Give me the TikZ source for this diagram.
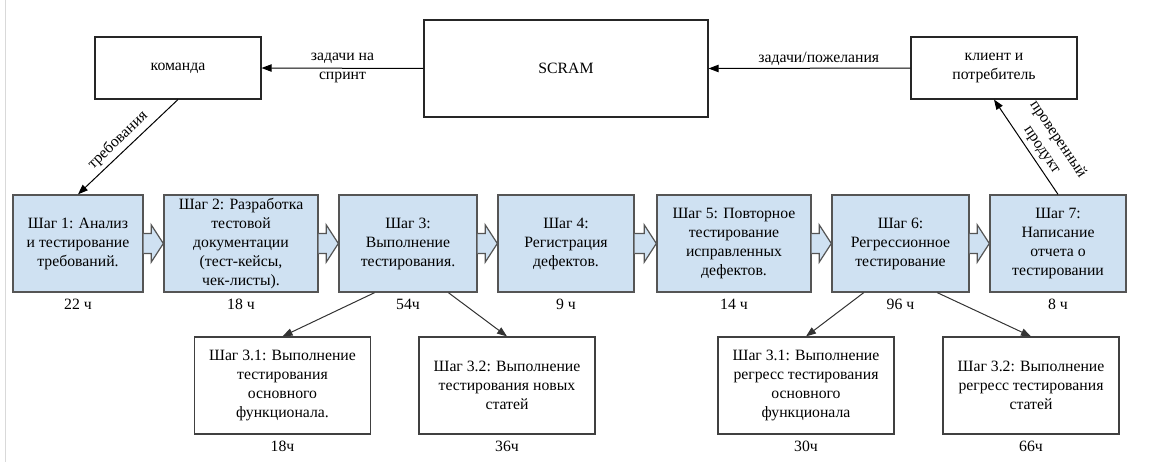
\documentclass[tikz,border=0pt]{standalone}
\usepackage{fontspec}
\setmainfont{Liberation Serif}
\usetikzlibrary{positioning,calc,arrows.meta}
\definecolor{stepblue}{RGB}{207,225,242}
\definecolor{boxgray}{RGB}{85,85,85}
\begin{document}
\begin{tikzpicture}[x=0.75pt,y=-0.75pt,
    font=\rmfamily\fontsize{11.8}{14.25}\selectfont,
    topbox/.style={draw=black!85, line width=0.8pt, align=center, inner sep=1pt},
    stepbox/.style={draw=boxgray, fill=stepblue, line width=1pt, align=center, inner sep=1pt, minimum height=72.75pt},
    subbox/.style={draw=black!75, line width=0.9pt, align=center, inner sep=1pt, minimum height=72.75pt, minimum width=132pt},
    hours/.style={below=3.5pt of #1, inner sep=1pt},
    arr/.style={-{Triangle[length=7.5pt,width=5.5pt]}, line width=0.75pt},
    blockarr/.style={draw=boxgray, fill=stepblue, line width=0.9pt}]
    \useasboundingbox (0,0) rectangle (1156,471);
    \draw[black!15, line width=0.75pt] (5,0) -- (5,462);

    % Draw the top row
    \node[topbox, minimum width=124.5pt, minimum height=46.5pt] (team) at (178,68) {команда};
    \node[topbox, minimum width=213pt, minimum height=72.75pt] (scram) at (566,68.5) {SCRAM};
    \node[topbox, minimum width=124.5pt, minimum height=46.5pt] (client) at (994,68) {клиент и\\потребитель};

    % Draw the steps
    \node[stepbox, minimum width=97.5pt] (s1) at (78,243.5) {Шаг 1: Анализ\\и тестирование\\требований.};
    \node[stepbox, minimum width=115.5pt] (s2) at (241,243.5) {Шаг 2: Разработка\\тестовой\\документации\\(тест-кейсы,\\чек-листы).};
    \node[stepbox, minimum width=103.5pt] (s3) at (408,243.5) {Шаг 3:\\Выполнение\\тестирования.};
    \node[stepbox, minimum width=102pt] (s4) at (566,243.5) {Шаг 4:\\Регистрация\\дефектов.};
    \node[stepbox, minimum width=115.5pt] (s5) at (734,243.5) {Шаг 5: Повторное\\тестирование\\исправленных\\дефектов.};
    \node[stepbox, minimum width=102.75pt] (s6) at (900.5,243.5) {Шаг 6:\\Регрессионное\\тестирование};
    \node[stepbox, minimum width=102pt] (s7) at (1058,243.5) {Шаг 7:\\Написание\\отчета о\\тестировании};

    % Draw the sub steps
    \node[subbox] (sub31) at (282.5,385.5) {Шаг 3.1: Выполнение\\тестирования\\основного\\функционала.};
    \node[subbox] (sub32) at (507,385.5) {Шаг 3.2: Выполнение\\тестирования новых\\статей};
    \node[subbox] (sub61) at (806,385.5) {Шаг 3.1: Выполнение\\регресс тестирования\\основного\\функционала};
    \node[subbox] (sub62) at (1031,385.5) {Шаг 3.2: Выполнение\\регресс тестирования\\статей};

    % Hours
    \node[hours=s1] (h1) {22 ч};
    \node[hours=s2] (h2) {18 ч};
    \node[hours=s3] (h3) {54ч};
    \node[hours=s4] (h4) {9 ч};
    \node[hours=s5] (h5) {14 ч};
    \node[hours=s6] (h6) {96 ч};
    \node[hours=s7] (h7) {8 ч};
    \node[hours=sub31] (h31) {18ч};
    \node[hours=sub32] (h32) {36ч};
    \node[hours=sub61] (h61) {30ч};
    \node[hours=sub62] (h62) {66ч};

    % Draw the block arrows
    \foreach \a/\b in {s1/s2,s2/s3,s3/s4,s4/s5,s5/s6,s6/s7}
        \draw[blockarr] ($(\a.east)+(0,-10)$) -- ($(\b.west)+(-12,-10)$) -- ($(\b.west)+(-12,-18.5)$)
            -- (\b.west) -- ($(\b.west)+(-12,18.5)$) -- ($(\b.west)+(-12,10)$) -- ($(\a.east)+(0,10)$);

    % Draw the connectors
    \draw[arr] (scram.west) -- (team.east) node[midway, inner sep=0pt, align=center] {задачи на\\спринт};
    \draw[arr] (client.west) -- (scram.east) node[midway, above, xshift=7pt, inner sep=1.5pt] {задачи/пожелания};
    \draw[arr] (team.south) -- (s1.north) node[pos=0.52, sloped, above, inner sep=3pt] {требования};
    \draw[arr] (s7.north) -- (client.south) node[pos=0.4, sloped, above, align=center, inner sep=3pt] {проверенный\\продукт};
    \draw[arr, black!80] ($(s3.south west)!0.26!(s3.south east)$) -- (sub31.north);
    \draw[arr, black!80] ($(s3.south west)!0.79!(s3.south east)$) -- (sub32.north);
    \draw[arr, black!80] ($(s6.south west)!0.234!(s6.south east)$) -- (sub61.north);
    \draw[arr, black!80] ($(s6.south west)!0.766!(s6.south east)$) -- (sub62.north);
\end{tikzpicture}
\end{document}
